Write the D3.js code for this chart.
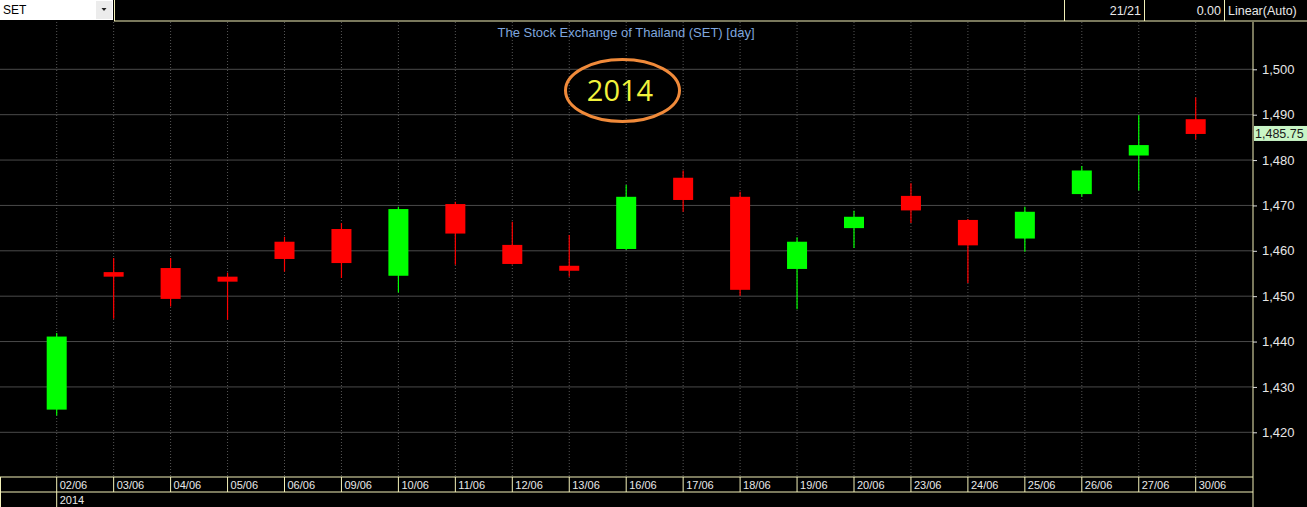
<!DOCTYPE html>
<html><head><meta charset="utf-8">
<script src="https://cdn.jsdelivr.net/npm/d3@7"></script>
<style>html,body{margin:0;padding:0;background:#000;overflow:hidden}svg{display:block}</style>
</head><body>
<script>
const dates = ["02/06","03/06","04/06","05/06","06/06","09/06","10/06","11/06","12/06","13/06","16/06","17/06","18/06","19/06","20/06","23/06","24/06","25/06","26/06","27/06","30/06"];
const openV  = [1425.0,1455.3,1456.2,1454.3,1462.0,1464.8,1454.5,1470.3,1461.3,1456.7,1460.4,1476.1,1471.9,1456.0,1465.0,1472.1,1466.8,1462.7,1472.5,1481.0,1489.0];
const highV  = [1441.9,1458.4,1458.4,1455.2,1463.1,1466.1,1469.7,1470.8,1466.4,1463.5,1474.5,1477.7,1473.0,1463.0,1468.8,1474.9,1467.0,1469.7,1478.7,1489.9,1493.8];
const lowV   = [1423.7,1445.0,1447.7,1444.8,1455.4,1454.0,1450.8,1456.9,1457.0,1454.3,1460.2,1468.6,1450.1,1447.1,1460.6,1466.1,1452.9,1459.8,1471.9,1473.3,1484.6];
const closeV = [1441.1,1454.3,1449.4,1453.2,1458.2,1457.3,1469.2,1463.8,1457.1,1455.6,1471.9,1471.2,1451.4,1462.0,1467.5,1468.9,1461.2,1468.6,1477.7,1483.3,1485.75];
const yTicks = [1420,1430,1440,1450,1460,1470,1480,1490,1500];
const lastPrice = 1485.75;
const title = "The Stock Exchange of Thailand (SET) [day]";
const yearLabel = "2014";

const W = 1307, H = 507;
const axisX = 1253, plotTop = 22, plotBottom = 477;
const cream = "#f2f0b8";
const svg = d3.select("body").append("svg").attr("width", W).attr("height", H);
svg.append("rect").attr("width", W).attr("height", H).attr("fill", "#000");

const y = d3.scaleLinear().domain([1420, 1500]).range([432.3, 69.3]);
const x = d3.scalePoint().domain(dates).range([56.7, 1195.7]);
const font = "Arial, 'Liberation Sans', sans-serif";

// horizontal gridlines
svg.append("g").selectAll("line").data(yTicks).join("line")
  .attr("x1", 0).attr("x2", axisX).attr("y1", d => y(d)).attr("y2", d => y(d))
  .attr("stroke", "#4a4a4a").attr("stroke-width", 1);
// vertical dotted gridlines
svg.append("g").selectAll("line").data(dates).join("line")
  .attr("x1", d => x(d)).attr("x2", d => x(d)).attr("y1", plotTop).attr("y2", plotBottom)
  .attr("stroke", "#555").attr("stroke-width", 1).attr("stroke-dasharray", "1,2");

// candles
const idx = d3.range(dates.length);
const up = i => closeV[i] >= openV[i];
const col = i => up(i) ? "#00ff00" : "#ff0000";
const cg = svg.append("g");
cg.selectAll("line.wick").data(idx).join("line").attr("class", "wick")
  .attr("x1", i => x(dates[i])).attr("x2", i => x(dates[i]))
  .attr("y1", i => y(highV[i])).attr("y2", i => y(lowV[i]))
  .attr("stroke", col).attr("stroke-width", 1.2);
const bw = 20;
cg.selectAll("rect.body").data(idx).join("rect").attr("class", "body")
  .attr("x", i => x(dates[i]) - bw / 2).attr("width", bw)
  .attr("y", i => y(Math.max(openV[i], closeV[i])))
  .attr("height", i => Math.max(1.5, y(Math.min(openV[i], closeV[i])) - y(Math.max(openV[i], closeV[i]))))
  .attr("fill", col);

// right axis
svg.append("line").attr("x1", axisX).attr("x2", axisX).attr("y1", 22).attr("y2", H)
  .attr("stroke", cream).attr("stroke-width", 1);
const ax = svg.append("g").attr("transform", `translate(${axisX},0)`)
  .call(d3.axisRight(y).tickValues(yTicks).tickSize(4).tickPadding(5).tickFormat(d3.format(",")));
ax.select(".domain").remove();
ax.selectAll(".tick line").attr("stroke", "#ddd");
ax.selectAll(".tick text").attr("fill", "#e6e6e6").style("font-family", font).style("font-size", "13px");

// last price label
svg.append("rect").attr("x", axisX + 1).attr("y", y(lastPrice) - 8).attr("width", W - axisX - 1).attr("height", 15)
  .attr("fill", "#c9f5c6");
svg.append("text").attr("x", axisX + 2).attr("y", y(lastPrice) + 4.5).text(d3.format(",.2f")(lastPrice))
  .attr("fill", "#1a1a1a").style("font-family", font).style("font-size", "12.5px");

// x band
const band = svg.append("g");
band.append("line").attr("x1", 0).attr("x2", axisX).attr("y1", 477).attr("y2", 477).attr("stroke", cream);
band.append("line").attr("x1", 0).attr("x2", axisX).attr("y1", 492).attr("y2", 492).attr("stroke", cream);
band.append("line").attr("x1", 0.5).attr("x2", 0.5).attr("y1", 477).attr("y2", H).attr("stroke", cream);
band.selectAll("line.sep").data(dates).join("line").attr("class", "sep")
  .attr("x1", d => x(d)).attr("x2", d => x(d)).attr("y1", 477).attr("y2", (d, i) => i === 0 ? H : 492)
  .attr("stroke", cream);
band.selectAll("text.dl").data(dates).join("text").attr("class", "dl")
  .attr("x", d => x(d) + 3).attr("y", 489).text(d => d)
  .attr("fill", "#e8e8e8").style("font-family", font).style("font-size", "11px");
band.append("text").attr("x", x(dates[0]) + 3).attr("y", 504).text(yearLabel)
  .attr("fill", "#e8e8e8").style("font-family", font).style("font-size", "11px");

// top bar
const tb = svg.append("g");
tb.append("rect").attr("x", 0).attr("y", 0).attr("width", 113).attr("height", 20).attr("fill", "#fff");
tb.append("rect").attr("x", 96).attr("y", 1).attr("width", 16).attr("height", 18).attr("fill", "#ececec");
tb.append("path").attr("d", "M101.5,8 L106.5,8 L104,11 Z").attr("fill", "#222");
tb.append("text").attr("x", 3).attr("y", 14).text("SET").attr("fill", "#000").style("font-family", font).style("font-size", "12px");
tb.append("line").attr("x1", 114.5).attr("x2", 114.5).attr("y1", 0).attr("y2", 21).attr("stroke", cream);
tb.append("line").attr("x1", 114).attr("x2", W).attr("y1", 21).attr("y2", 21).attr("stroke", cream);
[1064.5, 1144.5, 1224.5].forEach(v => tb.append("line").attr("x1", v).attr("x2", v).attr("y1", 0).attr("y2", 21).attr("stroke", cream));
tb.append("text").attr("x", 1141).attr("y", 15).attr("text-anchor", "end").text("21/21").attr("fill", "#e8e8e8").style("font-family", font).style("font-size", "12.5px");
tb.append("text").attr("x", 1221).attr("y", 15).attr("text-anchor", "end").text("0.00").attr("fill", "#e8e8e8").style("font-family", font).style("font-size", "12.5px");
tb.append("text").attr("x", 1228).attr("y", 15).text("Linear(Auto)").attr("fill", "#e8e8e8").style("font-family", font).style("font-size", "12.5px");

// title
svg.append("text").attr("x", 626).attr("y", 37).attr("text-anchor", "middle").text(title)
  .attr("fill", "#7fa6de").style("font-family", font).style("font-size", "13px");

// annotation
svg.append("ellipse").attr("cx", 622.5).attr("cy", 90.5).attr("rx", 57).attr("ry", 31)
  .attr("fill", "none").attr("stroke", "#f08a3a").attr("stroke-width", 3);
svg.append("text").attr("x", 620).attr("y", 101).attr("text-anchor", "middle").text(yearLabel)
  .attr("fill", "#f2f23c").style("font-family", "'Open Sans', 'Noto Sans', sans-serif").style("font-size", "29px");
</script>
</body></html>
